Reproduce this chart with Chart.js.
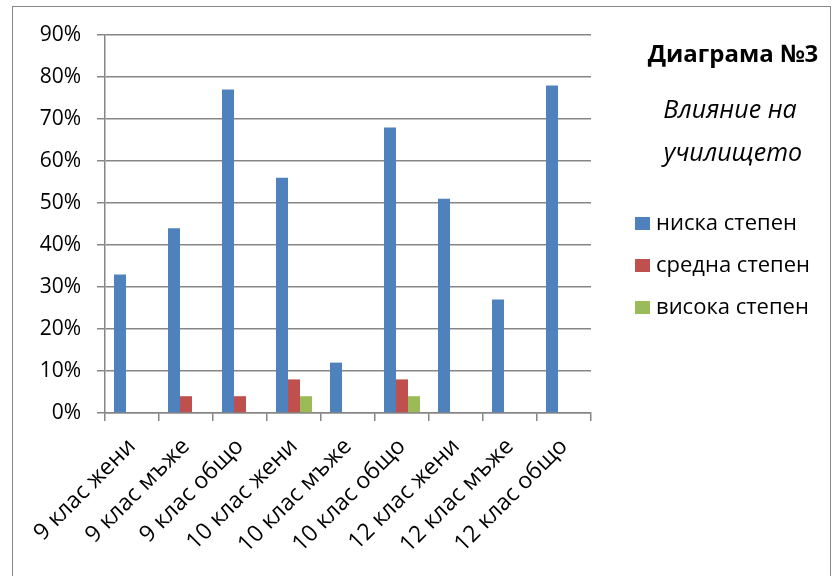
<!DOCTYPE html>
<html>
<head>
<meta charset="utf-8">
<script src="https://cdn.jsdelivr.net/npm/chart.js@4.4.0/dist/chart.umd.min.js"></script>
<style>
  html, body { margin: 0; padding: 0; background: #fff; }
  #wrap { width: 832px; height: 576px; }
</style>
</head>
<body>
<div id="wrap"><canvas id="chart" width="832" height="576"></canvas></div>
<script>
const categories = ["9 клас жени", "9 клас мъже", "9 клас общо", "10 клас жени", "10 клас мъже",
  "10 клас общо", "12 клас жени", "12 клас мъже", "12 клас общо"];
const seriesNames = ["ниска степен", "средна степен", "висока степен"];
const lowValues = [33, 44, 77, 56, 12, 68, 51, 27, 78];
const midValues = [0, 4, 4, 8, 0, 8, 0, 0, 0];
const highValues = [0, 0, 0, 4, 0, 4, 0, 0, 0];
const colors = ["#4F81BD", "#C0504D", "#9BBB59"];
const titleText = "Диаграма №3";
const subtitleLines = ["Влияние на", "училището"];

const FONT = "'Open Sans', 'Noto Sans', sans-serif";
const gridColor = "#868686";

// title, subtitle, legend and outer frame drawn on the canvas
const sidePanel = {
  id: "sidePanel",
  beforeDraw(chart) {
    const c = chart.ctx;
    c.save();
    c.fillStyle = "#fff";
    c.fillRect(0, 0, chart.width, chart.height);
    c.strokeStyle = gridColor;
    c.lineWidth = 1;
    c.strokeRect(12.5, 6.5, 818, 600);
    c.restore();
  },
  afterDraw(chart) {
    const c = chart.ctx;
    c.save();
    c.fillStyle = "#000";
    c.textAlign = "center";
    c.textBaseline = "middle";
    c.font = "bold 24px " + FONT;
    c.fillText(titleText, 733, 55);
    c.font = "italic 25px " + FONT;
    c.fillText(subtitleLines[0], 730, 111);
    c.fillText(subtitleLines[1], 733, 154);
    c.textAlign = "left";
    c.font = "22px " + FONT;
    chart.data.datasets.forEach((ds, i) => {
      const y = 224 + i * 42;
      c.fillStyle = ds.backgroundColor;
      c.fillRect(635, y - 7, 15, 13);
      c.fillStyle = "#000";
      c.fillText(ds.label, 656, y);
    });
    c.restore();
  }
};

new Chart(document.getElementById("chart"), {
  type: "bar",
  data: {
    labels: categories,
    datasets: [lowValues, midValues, highValues].map((vals, i) => ({
      label: seriesNames[i],
      data: vals,
      backgroundColor: colors[i],
      categoryPercentage: 0.667,
      barPercentage: 1.0
    }))
  },
  options: {
    responsive: false,
    animation: false,
    devicePixelRatio: 1,
    layout: { padding: { left: 12, top: 35, right: 241, bottom: 10 } },
    plugins: {
      legend: { display: false },
      tooltip: { enabled: false }
    },
    scales: {
      x: {
        grid: { offset: true, drawOnChartArea: false, drawTicks: true, tickLength: 8, color: gridColor, lineWidth: 1.5 },
        border: { color: gridColor, width: 1.5 },
        ticks: { color: "#000", font: { family: FONT, size: 23 }, maxRotation: 45, minRotation: 45, padding: 12, autoSkip: false },
        afterFit(scale) { scale.height = 153; }
      },
      y: {
        min: 0,
        max: 90,
        grid: { color: gridColor, lineWidth: 1.5, tickLength: 8 },
        border: { color: gridColor, width: 1.5 },
        ticks: { stepSize: 10, color: "#000", font: { family: FONT, size: 21 }, padding: 16, callback: v => v + "%" },
        afterFit(scale) { scale.width = 93; }
      }
    }
  },
  plugins: [sidePanel]
});
</script>
</body>
</html>
